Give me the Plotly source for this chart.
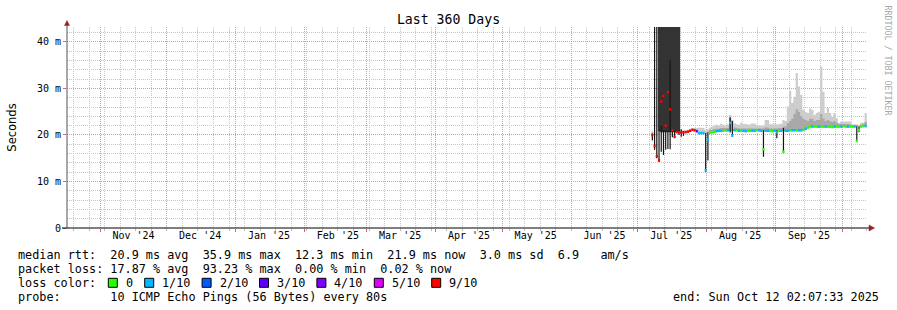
import plotly.graph_objects as go
import pandas as pd

# ---------------- data ----------------
range_start = "2024-10-17 02:07:33"
range_end = "2025-10-12 02:07:33"

day_dates = list(pd.date_range("2025-07-07 12:00", "2025-10-11 12:00", freq="D"))

median_ms = [
    # Jul 7 - Jul 31
    20.0, 17.6, 15.4, 14.6, 27.2, 28.4, 22.0, 29.2, 25.5, 21.0, 19.6, 20.6, 20.6,
    20.5, 20.6, 20.6, 20.7, 20.9, 21.1, 21.0, 20.8, 20.4, 20.4, 20.4, 12.4,
    # Aug 1 - Aug 31
    19.0, 20.5, 20.6, 20.7, 20.8, 20.9, 20.9, 20.9, 21.0, 21.0, 22.6, 19.9, 21.0,
    21.0, 20.9, 20.9, 20.9, 20.8, 20.9, 20.9, 20.9, 20.9, 21.0, 21.0, 20.9, 16.9,
    20.9, 20.9, 20.9, 20.8, 20.9,
    # Sep 1 - Sep 30
    20.6, 20.9, 20.9, 16.4, 20.9, 20.9, 21.0, 21.0, 21.0, 21.0, 21.0, 21.0, 21.1,
    21.3, 21.6, 21.8, 21.8, 21.8, 21.8, 21.8, 21.8, 21.8, 21.8, 21.8, 21.8, 21.7,
    21.8, 21.8, 21.8, 21.8,
    # Oct 1 - Oct 11
    21.9, 21.8, 21.8, 21.8, 21.8, 21.8, 18.7, 21.0, 21.8, 21.9, 21.9,
]

loss_tenths = [
    # Jul 7 - Jul 31
    9, 9, 9, 9, 9, 9, 9, 9, 9, 9, 9, 9, 9, 9, 9, 9, 9, 9, 9, 9, 3, 1, 1, 1, 1,
    # Aug
    1, 0, 0, 0, 1, 1, 1, 0, 0, 1, 1, 1, 1, 0, 1, 0, 1, 1, 0, 0, 1, 1, 0, 1, 1, 0,
    1, 1, 0, 0, 1,
    # Sep
    1, 0, 1, 0, 1, 1, 0, 1, 1, 0, 1, 1, 0, 1, 0, 0, 1, 0, 0, 1, 0, 0, 1, 0, 0, 0,
    1, 0, 0, 1,
    # Oct
    0, 0, 1, 0, 0, 1, 0, 0, 0, 0, 1,
]

smoke_low = [
    # Jul 7 - Jul 31
    20.0, None, None, None, None, None, None, None, None, None, None, None, None,
    20.4, 20.5, 20.5, 20.6, 20.8, 21.0, 20.9, 20.7, 20.3, 20.3, 20.3, 20.3,
    # Aug
    20.4, 20.4, 20.5, 20.6, 20.7, 20.8, 20.8, 20.8, 20.9, 20.9, 20.9, 20.9, 20.9,
    20.9, 20.8, 20.8, 20.8, 20.7, 20.8, 20.8, 20.8, 20.8, 20.9, 20.9, 20.8, 20.8,
    20.8, 20.8, 20.8, 20.7, 20.8,
    # Sep
    20.8, 20.8, 20.8, 20.8, 20.8, 20.8, 20.9, 20.9, 20.9, 20.9, 20.9, 20.9, 21.0,
    21.2, 21.5, 21.7, 21.7, 21.7, 21.7, 21.7, 21.7, 21.7, 21.7, 21.7, 21.7, 21.6,
    21.7, 21.7, 21.7, 21.7,
    # Oct
    21.8, 21.7, 21.7, 21.7, 21.7, 21.7, 21.7, 21.7, 21.7, 21.8, 21.8,
]

smoke_mid = [
    # Jul 7 - Jul 31
    None, None, None, None, None, None, None, None, None, None, None, None, None,
    None, None, None, None, None, None, None, None, None, None, None, None,
    # Aug
    None, 21.0, 21.1, 21.3, 21.4, 21.4, 21.5, 21.4, 21.5, 21.5, 23.6, 21.0, 21.6,
    21.5, 21.4, 21.5, 21.4, 21.4, 21.4, 21.5, 21.5, 21.4, 21.5, 21.5, 21.4, 21.4,
    21.6, 21.6, 21.4, 21.3, 21.4,
    # Sep
    21.4, 21.5, 21.5, 21.8, 21.8, 22.5, 23.0, 23.5, 24.5, 25.5, 25.0, 24.0, 23.5,
    23.2, 23.0, 23.5, 23.5, 23.0, 23.2, 23.2, 24.5, 23.5, 23.0, 23.2, 23.0, 22.8,
    23.0, 22.6, 22.4, 22.4,
    # Oct
    22.4, 22.3, 22.4, 22.3, 22.2, 22.2, 22.2, 22.0, 22.2, 22.4, 22.8,
]

smoke_high = [
    # Jul 7 - Jul 31
    20.8, None, None, None, None, None, None, None, None, None, None, None, None,
    20.9, 21.0, 21.0, 21.1, 21.3, 21.5, 21.4, 21.5, 21.6, 21.6, 21.5, 21.0,
    # Aug
    21.2, 21.6, 21.8, 22.0, 22.2, 22.0, 22.4, 22.2, 22.0, 22.3, 24.3, 23.2, 22.5,
    22.3, 22.2, 22.6, 22.3, 22.4, 22.2, 22.3, 22.5, 22.4, 22.2, 22.0, 22.0, 22.0,
    23.2, 23.2, 22.3, 22.2, 22.2,
    # Sep
    22.2, 22.3, 22.4, 23.2, 23.0, 26.1, 29.5, 26.9, 28.2, 33.3, 30.4, 28.6, 25.4,
    25.0, 24.7, 25.7, 25.4, 24.3, 24.7, 25.0, 34.7, 29.3, 24.7, 25.8, 24.7, 23.9,
    24.7, 23.6, 22.5, 22.9,
    # Oct
    22.9, 22.9, 22.8, 22.9, 22.2, 22.3, 22.2, 22.0, 22.6, 22.6, 24.7,
]

dark_dates = list(pd.date_range("2025-07-10 12:00", "2025-07-19 12:00", freq="D"))
dark_low = [20.8, 20.6, 20.6, 20.6, 20.6, 20.6, 20.6, 20.7, 20.6, 20.6]
dark_high = [43.5, 43.5, 43.5, 43.5, 43.5, 43.5, 43.5, 43.5, 43.5, 43.5]

spike_dates = list(pd.to_datetime([
    "2025-07-07 12:00", "2025-07-08 12:00", "2025-07-09 12:00", "2025-07-10 12:00",
    "2025-07-11 12:00", "2025-07-12 12:00", "2025-07-13 12:00", "2025-07-14 12:00",
    "2025-07-15 12:00", "2025-07-16 12:00", "2025-07-17 12:00", "2025-07-19 12:00",
    "2025-07-20 12:00", "2025-07-21 12:00", "2025-07-31 12:00", "2025-08-01 12:00",
    "2025-08-11 12:00", "2025-08-12 12:00", "2025-08-26 12:00", "2025-09-01 12:00",
    "2025-09-04 12:00", "2025-10-07 12:00", "2025-10-08 12:00",
]))
spike_low = [18.8, 16.8, 15.0, 14.2, 16.4, 15.7, 16.8, 17.0, 16.9, 19.5, 19.3, 20.0,
             19.6, 19.8, 12.1, 14.5, 20.5, 19.6, 15.3, 19.3, 16.1, 18.5, 20.6]
spike_high = [20.3, 43.5, 43.5, 21.0, 22.0, 21.0, 21.0, 21.0, 36.0, 21.0, 20.8, 21.0,
              21.2, 20.8, 20.4, 20.6, 23.8, 23.0, 21.0, 21.0, 21.5, 21.8, 21.8]

loss_levels = ["0", "1/10", "2/10", "3/10", "4/10", "5/10", "9/10"]
loss_values = [0, 1, 2, 3, 4, 5, 9]
loss_colors = ["#26ff00", "#00b8ff", "#0059ff", "#5e00ff", "#7e00ff", "#dd00ff", "#ff0000"]

month_starts = ["2024-11-01", "2024-12-01", "2025-01-01", "2025-02-01", "2025-03-01",
                "2025-04-01", "2025-05-01", "2025-06-01", "2025-07-01", "2025-08-01",
                "2025-09-01", "2025-10-01"]
month_label_dates = ["2024-11-16", "2024-12-16", "2025-01-16", "2025-02-16", "2025-03-16",
                     "2025-04-16", "2025-05-16", "2025-06-16", "2025-07-16", "2025-08-16",
                     "2025-09-16"]
month_labels = ["Nov '24", "Dec '24", "Jan '25", "Feb '25", "Mar '25", "Apr '25",
                "May '25", "Jun '25", "Jul '25", "Aug '25", "Sep '25"]
y_tick_vals = [0, 10, 20, 30, 40]
y_tick_text = ["0", "10 m", "20 m", "30 m", "40 m"]

title_text = "Last 360 Days"
y_title = "Seconds"
stat_rows = [
    "median rtt:  20.9 ms avg  35.9 ms max  12.3 ms min  21.9 ms now  3.0 ms sd  6.9   am/s",
    "packet loss: 17.87 % avg  93.23 % max  0.00 % min  0.02 % now",
    "loss color:",
    "probe:       10 ICMP Echo Pings (56 Bytes) every 80s",
]
end_text = "end: Sun Oct 12 02:07:33 2025"
side_text = "RRDTOOL / TOBI OETIKER"

# ---------------- geometry helpers ----------------
W, H = 897, 310
ML, MR, MT, MB = 67, 30, 27, 82
PW = W - ML - MR
PH = H - MT - MB
Y_TOP = 43.2
MONO = "DejaVu Sans Mono"
TXT = 11.8
HALF = pd.Timedelta(hours=12)


def iso(t):
    return pd.Timestamp(t).strftime("%Y-%m-%d %H:%M:%S")


def px(x):
    return (x - ML) / PW


def py(y):
    return (H - MB - y) / PH


def nb(s):
    return s.replace(" ", "\u00a0")


def step_band(dates, lows, highs):
    """Step-shaped closed polygons (one per contiguous run of days)."""
    xs, ys = [], []
    run = []
    for d, lo, hi in list(zip(dates, lows, highs)) + [(None, None, None)]:
        if d is not None and lo is not None and hi is not None:
            run.append((d, lo, hi))
            continue
        if run:
            top_x, top_y, bot_x, bot_y = [], [], [], []
            for dd, l, h in run:
                top_x += [iso(dd - HALF), iso(dd + HALF)]
                top_y += [h, h]
                bot_x += [iso(dd - HALF), iso(dd + HALF)]
                bot_y += [l, l]
            xs += top_x + bot_x[::-1] + [top_x[0], None]
            ys += top_y + bot_y[::-1] + [top_y[0], None]
            run = []
    return xs, ys


def band_trace(dates, lows, highs, color):
    xs, ys = step_band(dates, lows, highs)
    return go.Scatter(x=xs, y=ys, mode="lines", fill="toself", fillcolor=color,
                      line=dict(width=0, color=color), hoverinfo="skip", showlegend=False)


major_grid = "#f59090"
minor_grid = "#c7c7c7"
DOTS = "1px,1px"

fig = go.Figure()
fig.add_trace(band_trace(day_dates, smoke_low, smoke_high, "#cdcdcd"))
fig.add_trace(band_trace(day_dates, smoke_low, smoke_mid, "#a8a8a8"))
fig.add_trace(band_trace(dark_dates, dark_low, dark_high, "#333333"))

# black spikes (vertical min/max strokes)
sx_, sy_ = [], []
for d, lo, hi in zip(spike_dates, spike_low, spike_high):
    sx_ += [iso(d), iso(d), None]
    sy_ += [lo, hi, None]
fig.add_trace(go.Scatter(x=sx_, y=sy_, mode="lines", line=dict(color="#151515", width=1.2),
                         hoverinfo="skip", showlegend=False))

# median coloured by loss
for lv, col in zip(loss_values, loss_colors):
    mx, my = [], []
    for d, m, l in zip(day_dates, median_ms, loss_tenths):
        if l == lv:
            mx += [iso(d - HALF), iso(d + HALF), None]
            my += [m, m, None]
    if mx:
        fig.add_trace(go.Scatter(x=mx, y=my, mode="lines", line=dict(color=col, width=2.6),
                                 hoverinfo="skip", showlegend=False))

# carrier for month-label axis
fig.add_trace(go.Scatter(x=[range_start, range_end], y=[None, None], xaxis="x2",
                         mode="lines", hoverinfo="skip", showlegend=False))

annotations = []
for i, row in enumerate(stat_rows):
    annotations.append(dict(
        text=nb(row), xref="paper", yref="paper", x=px(16), y=py(254.5 + 14 * i),
        xanchor="left", yanchor="middle", showarrow=False,
        font=dict(family=MONO, size=TXT, color="black")))
annotations.append(dict(
    text=nb(end_text), xref="paper", yref="paper", x=px(881), y=py(296.5),
    xanchor="right", yanchor="middle", showarrow=False,
    font=dict(family=MONO, size=TXT, color="black")))
annotations.append(dict(
    text=nb(side_text), xref="paper", yref="paper", x=px(887.5), y=py(60),
    xanchor="center", yanchor="middle", showarrow=False, textangle=90,
    font=dict(family=MONO, size=8.3, color="#a8a8a8")))

shapes = []
sqx = 108.3
for lab, col in zip(loss_levels, loss_colors):
    shapes.append(dict(type="rect", xref="paper", yref="paper",
                       x0=px(sqx), x1=px(sqx + 9), y0=py(287.3), y1=py(278.3),
                       fillcolor=col, line=dict(color="black", width=1), layer="above"))
    annotations.append(dict(
        text=lab, xref="paper", yref="paper", x=px(sqx + 15.5), y=py(282.5),
        xanchor="left", yanchor="middle", showarrow=False,
        font=dict(family=MONO, size=TXT, color="black")))
    sqx += (len(lab) + 4.2) * 7.0

# axis lines and arrows
shapes.append(dict(type="line", xref="paper", yref="paper", x0=px(67), x1=px(67),
                   y0=py(228), y1=py(24), line=dict(color="#555555", width=1)))
shapes.append(dict(type="line", xref="paper", yref="paper", x0=px(62), x1=px(870),
                   y0=py(228), y1=py(228), line=dict(color="black", width=1)))
arrow_col = "#9a2020"
shapes.append(dict(type="path", xref="paper", yref="paper",
                   path=f"M {px(64.5)},{py(25.5)} L {px(69.5)},{py(25.5)} L {px(67)},{py(20.5)} Z",
                   fillcolor=arrow_col, line=dict(color=arrow_col, width=0.5)))
shapes.append(dict(type="path", xref="paper", yref="paper",
                   path=f"M {px(869)},{py(225)} L {px(869)},{py(231)} L {px(874.5)},{py(228)} Z",
                   fillcolor=arrow_col, line=dict(color=arrow_col, width=0.5)))

fig.update_layout(
    width=W, height=H,
    margin=dict(l=ML, r=MR, t=MT, b=MB, pad=0),
    paper_bgcolor="white", plot_bgcolor="white",
    title=dict(text=title_text, x=0.5, xref="container", xanchor="center",
               y=1 - 19 / H, yref="container", yanchor="middle",
               font=dict(family=MONO, size=13.2, color="black")),
    xaxis=dict(
        type="date", range=[range_start, range_end],
        tickmode="array", tickvals=month_starts, ticktext=[""] * len(month_starts),
        showticklabels=False,
        showgrid=True, gridcolor=major_grid, griddash=DOTS, gridwidth=1,
        ticks="outside", ticklen=3, tickcolor="#e06060",
        showline=False, zeroline=False,
        minor=dict(dtick=7 * 86400000, tick0="2024-10-20", showgrid=True,
                   gridcolor=minor_grid, griddash=DOTS, gridwidth=1,
                   ticks="outside", ticklen=2, tickcolor="#b8b8b8"),
    ),
    xaxis2=dict(
        type="date", range=[range_start, range_end], overlaying="x", anchor="y", side="bottom",
        tickmode="array", tickvals=month_label_dates, ticktext=month_labels,
        showgrid=False, ticks="", showline=False, zeroline=False,
        tickfont=dict(family=MONO, size=10, color="black"),
    ),
    yaxis=dict(
        range=[0, Y_TOP], tickmode="array", tickvals=y_tick_vals, ticktext=y_tick_text,
        showgrid=True, gridcolor=major_grid, griddash=DOTS, gridwidth=1,
        ticks="outside", ticklen=3, tickcolor="#e06060",
        showline=False, zeroline=False,
        tickfont=dict(family=MONO, size=10, color="black"),
        title=dict(text=y_title, standoff=17,
                   font=dict(family="DejaVu Sans", size=11.5, color="black")),
        minor=dict(dtick=2, tick0=0, showgrid=True, gridcolor=minor_grid,
                   griddash=DOTS, gridwidth=1),
    ),
    annotations=annotations,
    shapes=shapes,
    showlegend=False,
    hovermode=False,
)

fig.write_html("out.html")
